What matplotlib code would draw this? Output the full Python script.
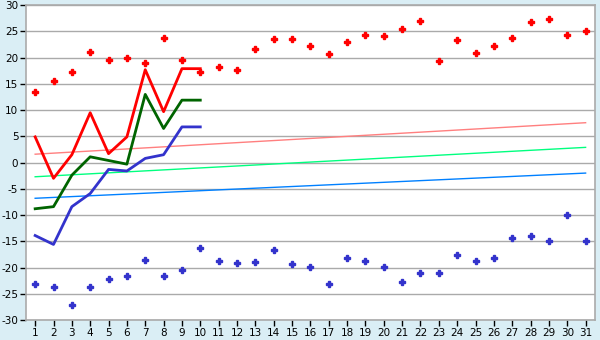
import matplotlib
matplotlib.use("Agg")
import matplotlib.pyplot as plt
import numpy as np

plt.rcParams["axes.unicode_minus"] = False

# days of the month
days = list(range(1, 32))

# scattered daily extremes (diamonds)
max_points = [13.4, 15.6, 17.2, 21.0, 19.6, 20.0, 18.9, 23.8, 19.5, 17.2,
              18.3, 17.7, 21.7, 23.6, 23.6, 22.3, 20.6, 22.9, 24.4, 24.2,
              25.5, 26.9, 19.3, 23.3, 20.8, 22.3, 23.8, 26.7, 27.3, 24.4, 25.0]
min_points = [-23.2, -23.8, -27.2, -23.8, -22.2, -21.7, -18.6, -21.7, -20.5, -16.3,
              -18.8, -19.2, -18.9, -16.7, -19.4, -19.9, -23.2, -18.2, -18.8, -19.9,
              -22.8, -21.1, -21.1, -17.7, -18.8, -18.2, -14.4, -13.9, -15.0, -10.0, -15.0]

# first ten days, lines
line_days = list(range(1, 11))
high_line = [4.9, -3.0, 1.5, 9.5, 1.7, 4.9, 17.7, 9.7, 17.9, 17.9]
mean_line = [-8.8, -8.4, -2.4, 1.1, 0.4, -0.3, 13.0, 6.5, 11.9, 11.9]
low_line = [-13.9, -15.6, -8.4, -5.9, -1.3, -1.6, 0.8, 1.5, 6.8, 6.8]

# trend lines (value at day 1 and day 31)
trend_days = [1, 31]
high_trend = [1.6, 7.6]
mean_trend = [-2.7, 2.9]
low_trend = [-6.8, -2.0]

bg = "#daeef5"
grey = "#aaaaaa"

fig = plt.figure(figsize=(6, 3.4), dpi=100, facecolor=bg)
ax = fig.add_axes([0.0433, 0.0588, 0.948, 0.926])
ax.set_facecolor("white")

ax.set_xlim(0.5, 31.5)
ax.set_ylim(-30, 30)
ax.set_yticks(np.arange(-30, 31, 5))
ax.set_xticks(days)
ax.grid(axis="y", color=grey, lw=1)
ax.set_axisbelow(True)
for s in ax.spines.values():
    s.set_color(grey)
    s.set_linewidth(1.2)
ax.tick_params(axis="both", colors="black", labelsize=7.5, length=4, width=1,
               pad=1.5)

ax.plot(trend_days, high_trend, color="#ff7f7f", lw=1)
ax.plot(trend_days, mean_trend, color="#00ff7f", lw=1)
ax.plot(trend_days, low_trend, color="#0080ff", lw=1)

ax.plot(line_days, high_line, color="#ff0000", lw=2)
ax.plot(line_days, mean_line, color="#006400", lw=2)
ax.plot(line_days, low_line, color="#3333cc", lw=2)

ax.plot(days, max_points, ls="none", marker="P", ms=4, color="#ff0000",
        mec="#ff0000")
ax.plot(days, min_points, ls="none", marker="P", ms=4, color="#3333cc",
        mec="#3333cc")

fig.savefig("out.png", dpi=100, facecolor=bg)
